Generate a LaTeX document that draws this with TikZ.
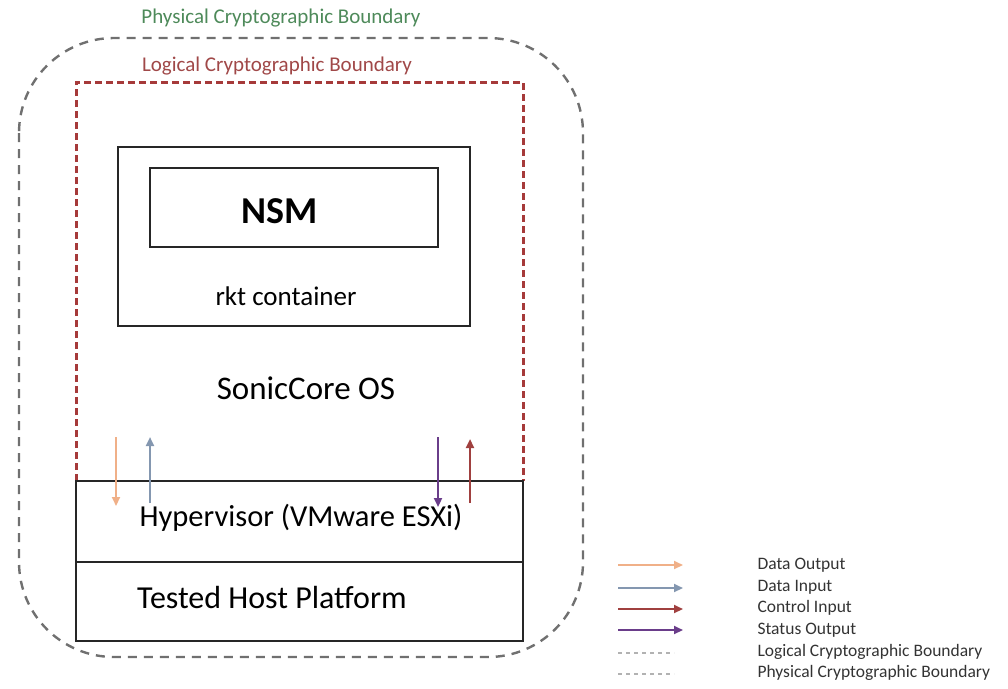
\documentclass[tikz,border=0pt]{standalone}
\usepackage{fontspec}
\setmainfont{Carlito}
\usetikzlibrary{arrows.meta}
\definecolor{dout}{HTML}{F0B088}
\definecolor{din}{HTML}{8497B0}
\definecolor{cin}{HTML}{A0403F}
\definecolor{sout}{HTML}{6A3D8A}
\definecolor{logb}{HTML}{A63A3A}
\definecolor{phyb}{HTML}{707070}
\definecolor{phyt}{HTML}{4E8A5A}
\definecolor{logt}{HTML}{A04848}
\tikzset{
  box/.style={draw=black!85, line width=2.4pt},
  flow/.style={line width=2.2pt, -{Triangle[length=9pt,width=8pt]}},
  legarrow/.style={line width=2pt, -{Triangle[length=9pt,width=8pt]}},
  physb/.style={draw=phyb, line width=2.4pt, dash pattern=on 9pt off 7pt, rounded corners=95pt},
  logicb/.style={draw=logb, line width=3pt, dash pattern=on 7pt off 4pt},
  legdash/.style={gray!60, line width=1.5pt, dash pattern=on 4pt off 4pt},
  legtext/.style={anchor=west, font=\fontsize{17.5}{19}\selectfont, text=black!80},
}
\begin{document}
\begin{tikzpicture}[x=1pt,y=-1pt]
\useasboundingbox (0,0) rectangle (1008,688);
% physical boundary
\draw[physb] (19,38) rectangle (583,657);
\node[text=phyt, font=\fontsize{21}{24}\selectfont] (phylabel) at (281,18) {Physical Cryptographic Boundary};
% logical boundary
\draw[logicb] (76,481) -- (76,82) -- (523,82) -- (523,481);
\node[text=logt, font=\fontsize{21}{24}\selectfont] (loglabel) at (277,66) {Logical Cryptographic Boundary};
% rkt container
\draw[box] (118,147) rectangle (470,326);
\draw[box] (150,168) rectangle (438,247);
\node[font=\fontsize{38}{42}\selectfont\bfseries] (nsm) at (280,211) {NSM};
\node[font=\fontsize{27}{30}\selectfont] (rkt) at (286,296) {rkt container};
\node[font=\fontsize{33}{36}\selectfont] (os) at (306,388) {SonicCore OS};
% hypervisor & host
\draw[box] (76,481) rectangle (523,562);
\draw[box] (76,562) rectangle (523,641);
\node[font=\fontsize{30.5}{34}\selectfont] (hyp) at (301,518) {Hypervisor (VMware ESXi)};
\node[font=\fontsize{32}{36}\selectfont] (host) at (272,597) {Tested Host Platform};
% flows
\coordinate (a1s) at (116,437); \coordinate (a1e) at (116,506);
\coordinate (a2s) at (150,503); \coordinate (a2e) at (150,437);
\coordinate (a3s) at (438,437); \coordinate (a3e) at (438,507);
\coordinate (a4s) at (470,503); \coordinate (a4e) at (470,439);
\draw[flow, dout] (a1s) -- (a1e);
\draw[flow, din] (a2s) -- (a2e);
\draw[flow, sout] (a3s) -- (a3e);
\draw[flow, cin] (a4s) -- (a4e);
% legend
\coordinate (l1s) at (618,565); \coordinate (l1e) at (683,565);
\coordinate (l2s) at (618,588); \coordinate (l2e) at (683,588);
\coordinate (l3s) at (618,609); \coordinate (l3e) at (683,609);
\coordinate (l4s) at (618,630); \coordinate (l4e) at (683,630);
\coordinate (l5s) at (618,653); \coordinate (l5e) at (674,653);
\coordinate (l6s) at (618,674); \coordinate (l6e) at (674,674);
\draw[legarrow, dout] (l1s) -- (l1e);
\draw[legarrow, din] (l2s) -- (l2e);
\draw[legarrow, cin] (l3s) -- (l3e);
\draw[legarrow, sout] (l4s) -- (l4e);
\draw[legdash] (l5s) -- (l5e);
\draw[legdash] (l6s) -- (l6e);
\node[legtext] (t1) at (754,565) {Data Output};
\node[legtext] (t2) at (754,587) {Data Input};
\node[legtext] (t3) at (754,608) {Control Input};
\node[legtext] (t4) at (754,630) {Status Output};
\node[legtext] (t5) at (754,652) {Logical Cryptographic Boundary};
\node[legtext] (t6) at (754,673) {Physical Cryptographic Boundary};
\end{tikzpicture}
\end{document}
